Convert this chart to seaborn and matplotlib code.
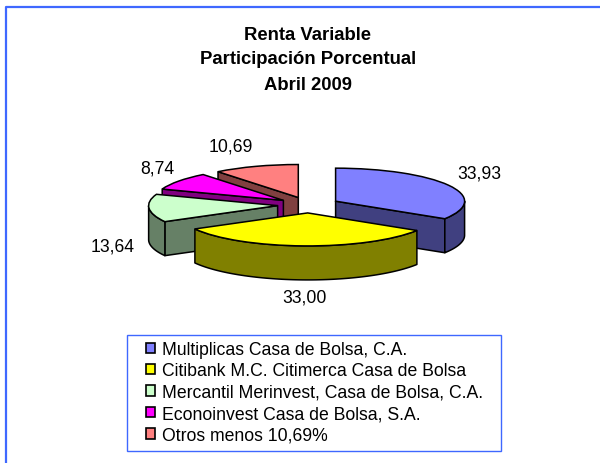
import numpy as np
import matplotlib
matplotlib.use("Agg")
import matplotlib.pyplot as plt
from matplotlib.patches import Polygon, Rectangle
from matplotlib.lines import Line2D
import seaborn as sns

categories = ["Multiplicas Casa de Bolsa, C.A.",
              "Citibank M.C. Citimerca Casa de Bolsa",
              "Mercantil Merinvest, Casa de Bolsa, C.A.",
              "Econoinvest Casa de Bolsa, S.A.",
              "Otros menos 10,69%"]
values = [33.93, 33.00, 13.64, 8.74, 10.69]
title_lines = ["Renta Variable", "Participación Porcentual", "Abril 2009"]
top_colors = ["#8080FF", "#FFFF00", "#CCFFCC", "#FF00FF", "#FF8080"]
side_colors = ["#404080", "#808000", "#668066", "#800080", "#804040"]
label_px = [(479, 174), (304, 298), (113, 247), (157, 169), (231, 147)]
draw_order = [4, 3, 2, 0, 1]

W, H = 600, 464
RX, RY, DEPTH, CX, CY = 129.0, 33.0, 34.0, 308.5, 206.0
BORDER = "#3F68FF"

sns.set_theme(style="white")
plt.rcParams["font.family"] = ["Liberation Sans", "DejaVu Sans"]

fig = plt.figure(figsize=(W / 100, H / 100), dpi=100, facecolor="white")
ax = fig.add_axes([0, 0, 1, 1])

wedges, _ = ax.pie(values, colors=sns.color_palette(top_colors), explode=[0.24] * 5,
                   startangle=90, counterclock=False, radius=1.0,
                   wedgeprops=dict(edgecolor="black", linewidth=1.1))
ax.set_aspect("auto")
ax.set_xlim(-CX / RX, (W - CX) / RX)
ax.set_ylim((CY - H) / RY, CY / RY)
ax.axis("off")

d = DEPTH / RY
edge = dict(edgecolor="black", linewidth=1.1, joinstyle="round")


def pt(c, deg):
    a = np.radians(deg)
    return np.array([c[0] + np.cos(a), c[1] + np.sin(a)])


for rank, i in enumerate(draw_order):
    w = wedges[i]
    z = 2 + rank
    c, t1, t2 = np.array(w.center), w.theta1, w.theta2
    w.set_zorder(z + 0.5)
    drop = np.array([0, -d])
    for t, n in ((t1, t1 - 90), (t2, t2 + 90)):
        if np.sin(np.radians(n)) < -1e-6:
            e = pt(c, t)
            ax.add_patch(Polygon([c, e, e + drop, c + drop], closed=True,
                                 facecolor=side_colors[i], zorder=z, **edge))
    for k in (-2, -1, 0, 1):
        a = max(t1, 180 + 360 * k)
        b = min(t2, 360 + 360 * k)
        if b > a:
            arc = np.array([pt(c, t) for t in np.linspace(a, b, 80)])
            ax.add_patch(Polygon(np.vstack([arc, arc[::-1] + drop]), closed=True,
                                 facecolor=side_colors[i], zorder=z, **edge))

for v, (x, y) in zip(values, label_px):
    fig.text(x / W, 1 - y / H, f"{v:.2f}".replace(".", ","), ha="center", va="center",
             fontsize=12.7, color="black")

for line, y in zip(title_lines, (35, 60, 86)):
    fig.text(308 / W, 1 - y / H, line, ha="center", va="center",
             fontsize=13.3, fontweight="bold", color="black")

fig.add_artist(Line2D([6 / W, 6 / W, 1], [0, 1 - 8 / H, 1 - 8 / H], transform=fig.transFigure,
                      color=BORDER, linewidth=1.6))
fig.add_artist(Rectangle((127 / W, 1 - 452 / H), 374 / W, 116 / H, transform=fig.transFigure,
                         fill=False, edgecolor=BORDER, linewidth=1.0))

leg = fig.legend(wedges, categories, loc="upper left", bbox_to_anchor=(145.5 / W, 1 - 342 / H),
                 frameon=False, fontsize=12.7, borderpad=0, borderaxespad=0,
                 handlelength=0.52, handleheight=0.52, handletextpad=0.43, labelspacing=0.25,
                 labelcolor="black")
for h in leg.legend_handles:
    h.set_edgecolor("black")
    h.set_linewidth(1.2)

fig.savefig("out.png", dpi=100)
